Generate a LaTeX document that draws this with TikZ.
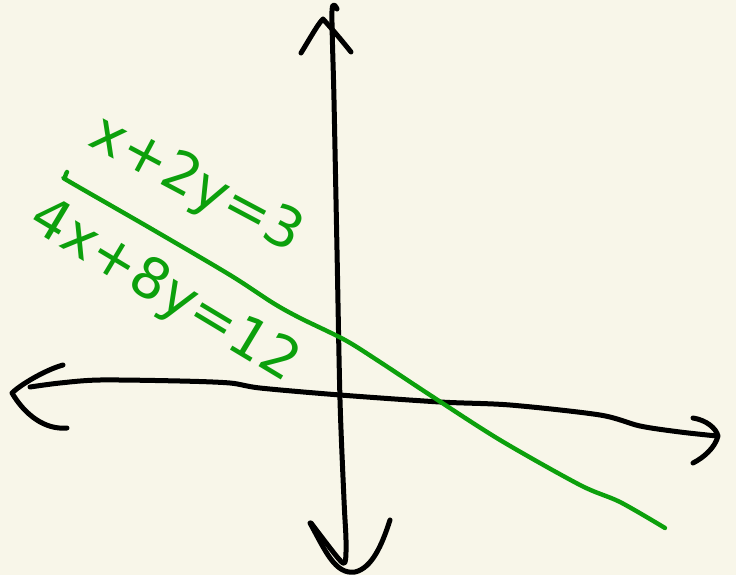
\documentclass[tikz,border=0pt]{standalone}
\usepackage{fontspec}
\setsansfont{DejaVu Sans}
\definecolor{paper}{RGB}{248,246,233}
\definecolor{pen}{RGB}{12,160,12}
\tikzset{
  axis/.style={line width=5pt, black, line cap=round, line join=round},
  graphline/.style={line width=4.4pt, pen, line cap=round, line join=round},
  eqlabel/.style={text=pen, font=\sffamily\fontsize{56}{56}\selectfont, inner sep=0pt}
}
\begin{document}
\begin{tikzpicture}[x=1pt,y=-1pt]
\fill[paper] (0,0) rectangle (736,575);
\useasboundingbox (0,0) rectangle (736,575);
% vertical axis
\draw[axis] plot[smooth, tension=0.5] coordinates {(337,9) (332,11) (334,100) (337,250) (340,400) (344,500) (346,540) (345,562) (338,558) (311,523)};
\draw[axis] (301,53) .. controls (312,35) and (318,24) .. (323,19) .. controls (333,30) and (343,42) .. (351,52);
\draw[axis] (310,523) .. controls (325,550) and (335,575) .. (355,572) .. controls (372,568) and (382,545) .. (390,520);
% horizontal axis
\draw[axis] plot[smooth, tension=0.5] coordinates {(30,387) (60,383) (100,380) (180,381) (230,383) (260,388) (340,395) (440,402) (510,405) (600,415) (640,426) (680,432) (717,436)};
\draw[axis] (63,365) .. controls (45,370) and (20,385) .. (12,393) .. controls (25,415) and (45,430) .. (67,428);
\draw[axis] (693,418) .. controls (706,420) and (716,428) .. (718,436) .. controls (715,448) and (703,458) .. (693,463);
% green line
\draw[graphline] plot[smooth, tension=0.5] coordinates {(67,172) (65,178) (70,182) (150,228) (230,275) (273,303) (300,318) (345,340) (380,362) (430,395) (500,440) (580,485) (620,502) (665,528)};
% labels
\node[eqlabel, rotate=-28] (eq1) at (196,186) {x+2y=3};
\node[eqlabel, rotate=-31] (eq2) at (164,292) {4x+8y=12};
\end{tikzpicture}
\end{document}
